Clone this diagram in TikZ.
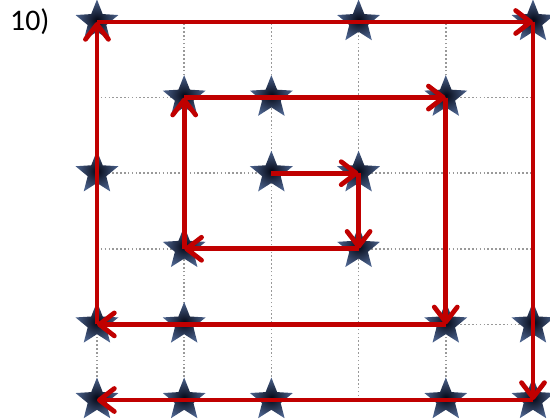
\documentclass[tikz,border=0pt]{standalone}
\usepackage{fontspec}
\newfontfamily\labelfont{Carlito}
\usepackage{tikz}
\usetikzlibrary{shapes.geometric, arrows.meta}
\definecolor{spiralred}{RGB}{192,0,0}
\definecolor{stardark}{RGB}{4,8,22}
\definecolor{staredge}{RGB}{75,98,140}

\begin{document}
\begin{tikzpicture}[
    x=1.744cm, y=1.512cm,
    starnode/.style={star, star points=5, star point ratio=2.3, minimum size=0.9cm, inner sep=0pt,
        shade, inner color=stardark, outer color=staredge},
    gridline/.style={gray!80, line width=0.9pt, dash pattern=on 0.9pt off 1.3pt},
    arrow/.style={-{Straight Barb[length=3mm, width=4.6mm, round]}, spiralred, line width=2.7pt}
]
\useasboundingbox (-1.112,-0.238) rectangle (5.195,5.291);
\draw[gridline] (0,0) grid[step={(1,1)}] (5,5);

\node[font=\labelfont\fontsize{17}{20}\selectfont] (title) at (-0.77,5) {10)};

\node[starnode] (s05) at (0,5) {};
\node[starnode] (s35) at (3,5) {};
\node[starnode] (s55) at (5,5) {};
\node[starnode] (s14) at (1,4) {};
\node[starnode] (s24) at (2,4) {};
\node[starnode] (s44) at (4,4) {};
\node[starnode] (s03) at (0,3) {};
\node[starnode] (s23) at (2,3) {};
\node[starnode] (s33) at (3,3) {};
\node[starnode] (s12) at (1,2) {};
\node[starnode] (s32) at (3,2) {};
\node[starnode] (s01) at (0,1) {};
\node[starnode] (s11) at (1,1) {};
\node[starnode] (s41) at (4,1) {};
\node[starnode] (s51) at (5,1) {};
\node[starnode] (s00) at (0,0) {};
\node[starnode] (s10) at (1,0) {};
\node[starnode] (s20) at (2,0) {};
\node[starnode] (s40) at (4,0) {};
\node[starnode] (s50) at (5,0) {};

% spiral, from the middle outwards
\draw[arrow] (s23.center) -- (s33.center);
\draw[arrow] (s33.center) -- (s32.center);
\draw[arrow] (s32.center) -- (s12.center);
\draw[arrow] (s12.center) -- (s14.center);
\draw[arrow] (s14.center) -- (s44.center);
\draw[arrow] (s44.center) -- (s41.center);
\draw[arrow] (s41.center) -- (s01.center);
\draw[arrow] (s01.center) -- (s05.center);
\draw[arrow] (s05.center) -- (s55.center);
\draw[arrow] (s55.center) -- (s50.center);
\draw[arrow] (s50.center) -- (s00.center);
\end{tikzpicture}
\end{document}
